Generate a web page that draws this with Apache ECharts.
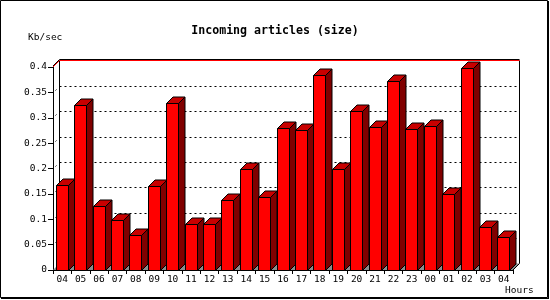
<!DOCTYPE html>
<html>
<head>
<meta charset="utf-8">
<script src="https://cdn.jsdelivr.net/npm/echarts@6/dist/echarts.min.js"></script>
<style>
html,body{margin:0;padding:0;background:#fff;}
#chart{width:550px;height:300px;}
</style>
</head>
<body>
<div id="chart"></div>
<script>
var hours = ['04','05','06','07','08','09','10','11','12','13','14','15','16','17','18','19','20','21','22','23','00','01','02','03','04'];
var sizeKbps = [0.168,0.325,0.1255,0.099,0.0695,0.165,0.329,0.091,0.091,0.137,0.199,0.143,0.279,0.275,0.384,0.200,0.313,0.281,0.372,0.277,0.284,0.149,0.398,0.085,0.066];
var yTicks = [0,0.05,0.1,0.15,0.2,0.25,0.3,0.35,0.4];

var MONO = '"DejaVu Sans Mono", "Liberation Mono", monospace';
var D = 6.5; // 3D depth offset

var chart = echarts.init(document.getElementById('chart'), null, {renderer: 'canvas'});

function frameRender(params, api) {
  var n = hours.length;
  var pLeftBottom = api.coord([0, 0]);
  var band = api.size([1, 0])[0];
  var x0 = pLeftBottom[0] - band / 2;
  var x1 = api.coord([n - 1, 0])[0] + band / 2;
  var y0 = pLeftBottom[1];
  var yTop = api.coord([0, yTicks[yTicks.length - 1]])[1];
  var children = [];
  // floor
  children.push({type: 'polygon', shape: {points: [[x0, y0], [x1, y0], [x1 + D, y0 - D], [x0 + D, y0 - D]]},
    style: {fill: '#8c8c8c', stroke: null}});
  // dotted grid lines on back wall
  for (var i = 1; i < yTicks.length - 1; i++) {
    var yy = Math.round(api.coord([0, yTicks[i]])[1] - D) + 0.5;
    children.push({type: 'line', shape: {x1: x0 + D, y1: yy, x2: x1 + D, y2: yy},
      style: {stroke: '#000', lineWidth: 1, lineDash: [2, 3]}});
    children.push({type: 'line', shape: {x1: x0 + 2.5, y1: yy + D - 2.5, x2: x0 + 3.5, y2: yy + D - 3.5},
      style: {stroke: '#000', lineWidth: 1}});
  }
  // back wall left, right
  children.push({type: 'line', shape: {x1: x0 + D, y1: yTop - D, x2: x0 + D, y2: y0 - D}, style: {stroke: '#000', lineWidth: 1}});
  children.push({type: 'line', shape: {x1: x1 + D, y1: yTop - D, x2: x1 + D, y2: y0 - D}, style: {stroke: '#000', lineWidth: 1}});
  // bottom right diagonal
  children.push({type: 'line', shape: {x1: x1, y1: y0, x2: x1 + D, y2: y0 - D}, style: {stroke: '#000', lineWidth: 1}});
  // top edge: black then red
  children.push({type: 'polyline', shape: {points: [[x0, yTop - 1], [x0 + D, yTop - D - 1], [x1 + D, yTop - D - 1]]}, style: {stroke: '#000', lineWidth: 1, fill: null}});
  children.push({type: 'polyline', shape: {points: [[x0, yTop], [x0 + D, yTop - D], [x1 + D, yTop - D]]}, style: {stroke: '#ff0000', lineWidth: 1, fill: null}});
  return {type: 'group', children: children};
}

function barRender(params, api) {
  var idx = api.value(0);
  var v = api.value(1);
  var pTop = api.coord([idx, v]);
  var pBot = api.coord([idx, 0]);
  var band = api.size([1, 0])[0];
  var cx = pTop[0];
  var l = Math.round(cx - band * 0.35) + 0.5;
  var r = l + Math.round(band * 0.64);
  var t = Math.round(pTop[1]) + 0.5;
  var b = Math.round(pBot[1]) + 0.5;
  var st = {stroke: '#000', lineWidth: 1, lineJoin: 'miter'};
  return {type: 'group', children: [
    {type: 'polygon', shape: {points: [[r, b], [r + D, b - D], [r + D, t - D], [r, t]]},
      style: echarts.util.extend({fill: '#800000'}, st)},
    {type: 'polygon', shape: {points: [[l, t], [l + D, t - D], [r + D, t - D], [r, t]]},
      style: echarts.util.extend({fill: '#c80000'}, st)},
    {type: 'rect', shape: {x: l, y: t, width: r - l, height: b - t},
      style: echarts.util.extend({fill: '#ff0000'}, st)}
  ]};
}

var barData = sizeKbps.map(function (v, i) { return [i, v]; });

chart.setOption({
  animation: false,
  backgroundColor: '#fff',
  title: {
    text: 'Incoming articles (size)',
    left: 'center',
    top: 20,
    textStyle: {fontFamily: MONO, fontWeight: 'bold', fontSize: 11.6, color: '#000'}
  },
  grid: {left: 53, right: 37, top: 67, bottom: 30, containLabel: false},
  xAxis: {
    type: 'category',
    data: hours,
    boundaryGap: true,
    axisLine: {lineStyle: {color: '#000', width: 1}},
    axisTick: {show: true, length: 4, lineStyle: {color: '#000'}, alignWithLabel: false, interval: 0},
    axisLabel: {interval: 0, margin: 5, fontFamily: MONO, fontSize: 9.5, color: '#000'},
    splitLine: {show: false}
  },
  yAxis: {
    type: 'value',
    min: 0,
    max: 0.4,
    interval: 0.05,
    axisLine: {show: true, lineStyle: {color: '#000', width: 1}},
    axisTick: {show: true, length: 5, lineStyle: {color: '#000'}},
    axisLabel: {margin: 6, fontFamily: MONO, fontSize: 9.5, color: '#000'},
    splitLine: {show: false}
  },
  graphic: [
    {type: 'rect', shape: {x: 0.5, y: 0.5, width: 547, height: 297}, style: {fill: null, stroke: '#000', lineWidth: 1}, z: 100},
    {type: 'line', shape: {x1: 548.5, y1: 1, x2: 548.5, y2: 299}, style: {stroke: '#000', lineWidth: 1}, z: 100},
    {type: 'line', shape: {x1: 1, y1: 298.5, x2: 549, y2: 298.5}, style: {stroke: '#000', lineWidth: 1}, z: 100},
    {type: 'text', left: 28, top: 33, style: {text: 'Kb/sec', font: '9.5px ' + MONO, fill: '#000'}},
    {type: 'text', left: 505, top: 286, style: {text: 'Hours', font: '9.5px ' + MONO, fill: '#000'}}
  ],
  series: [
    {type: 'custom', name: 'frame', data: [[0, 0]], renderItem: frameRender, silent: true, z: 1, clip: false},
    {type: 'custom', name: 'size', data: barData, renderItem: barRender, z: 2, clip: false, encode: {x: 0, y: 1}}
  ]
});
</script>
</body>
</html>
